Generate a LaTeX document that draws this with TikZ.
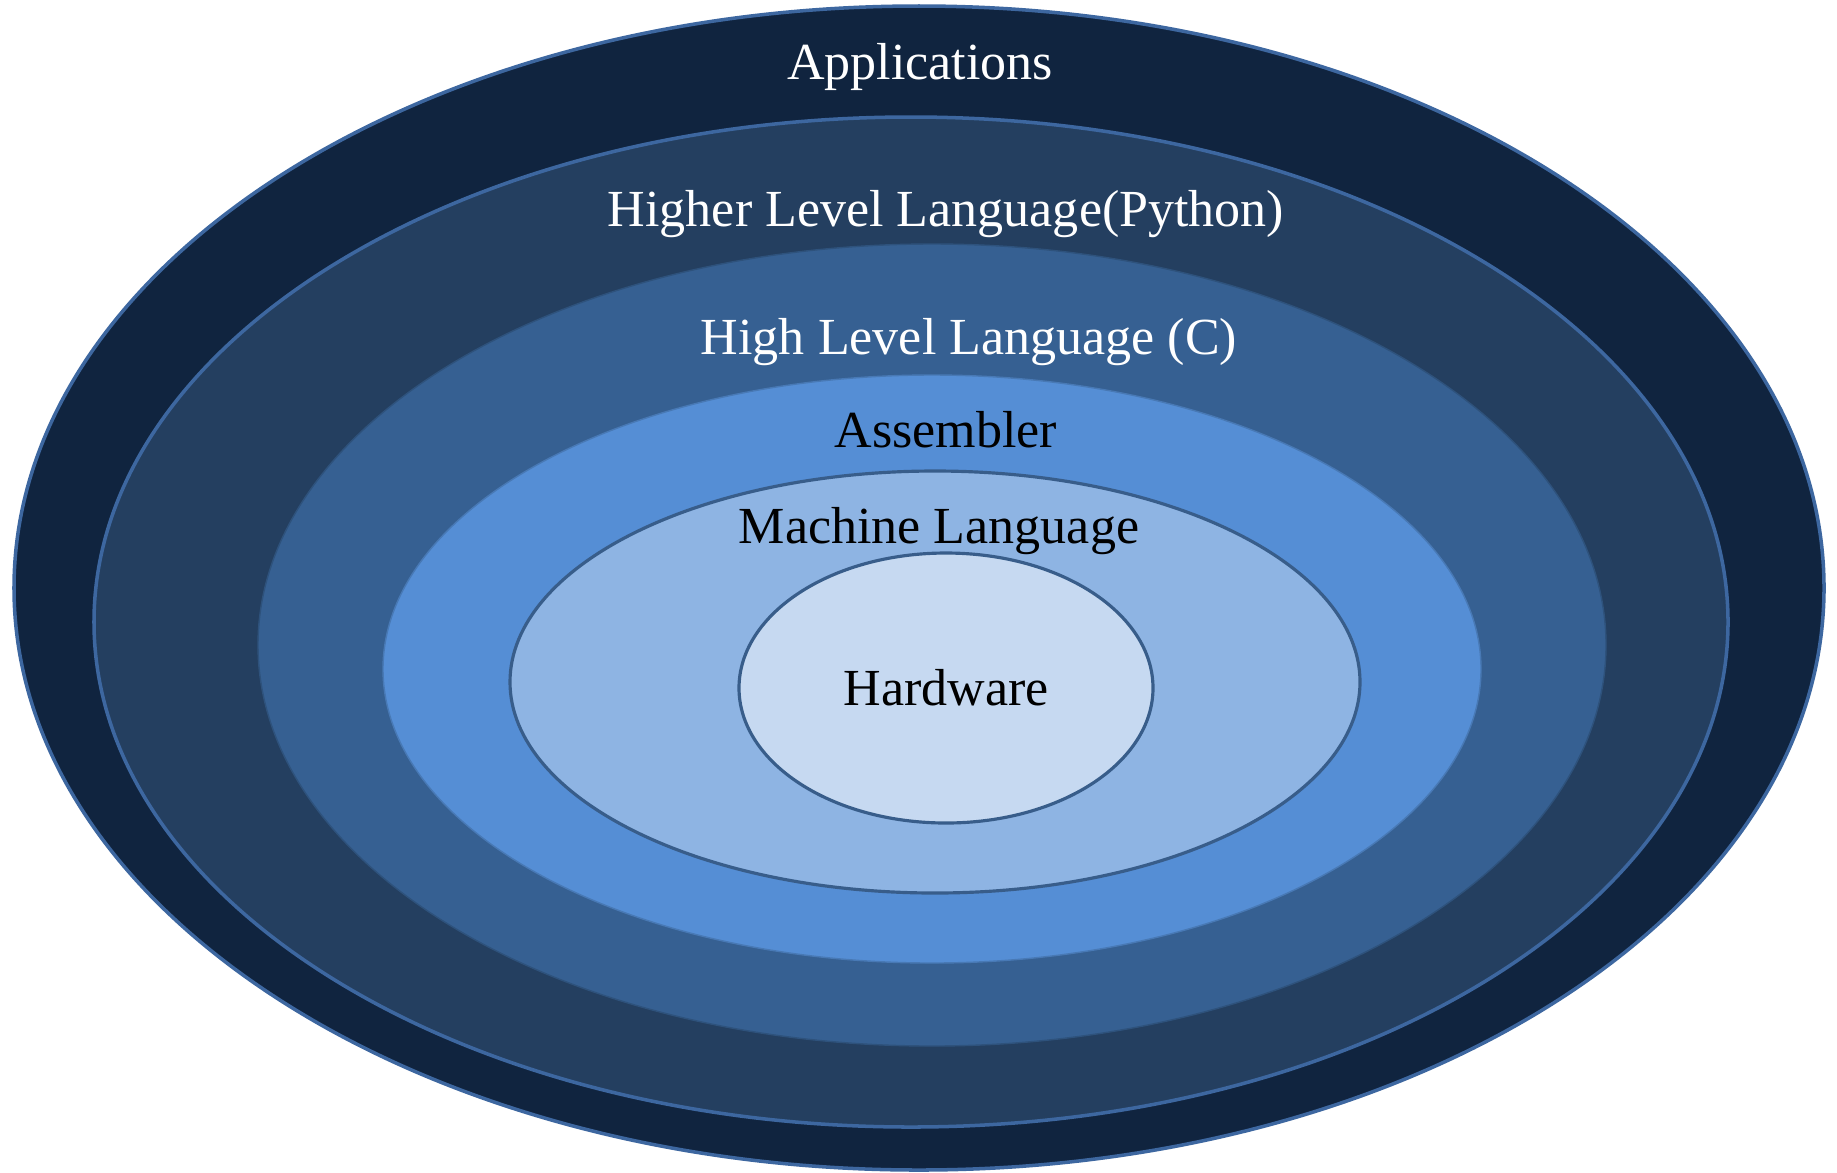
\documentclass[tikz,border=0pt]{standalone}
\usepackage{fontspec}
\setmainfont{Liberation Serif}
\definecolor{layerA}{HTML}{10243F}
\definecolor{layerB}{HTML}{243F60}
\definecolor{layerC}{HTML}{366092}
\definecolor{layerD}{HTML}{558ED5}
\definecolor{layerE}{HTML}{8EB4E3}
\definecolor{layerF}{HTML}{C6D9F1}
\definecolor{rimLight}{HTML}{3D67A0}
\definecolor{rimDark}{HTML}{385D8A}
\tikzset{
  layertext/.style={anchor=base, inner sep=0pt, font=\fontsize{14.8}{17}\selectfont},
  lighttext/.style={layertext, text=white},
  darktext/.style={layertext, text=black},
}
\begin{document}
\begin{tikzpicture}[x=0.01cm, y=-0.01cm]
  \useasboundingbox (0,0) rectangle (1837,1172);
  % nested layers, outermost first
  \filldraw[fill=layerA, draw=rimLight, line width=1pt] (919,588) ellipse [x radius=905, y radius=582];
  \filldraw[fill=layerB, draw=rimLight, line width=1pt] (911,622) ellipse [x radius=817, y radius=505];
  \filldraw[fill=layerC, draw=layerC!85!black, line width=0.4pt] (932,645) ellipse [x radius=674, y radius=401];
  \filldraw[fill=layerD, draw=layerD!85!black, line width=0.4pt] (932,669) ellipse [x radius=549, y radius=294];
  \filldraw[fill=layerE, draw=rimDark, line width=0.9pt] (935,682) ellipse [x radius=425, y radius=211];
  \filldraw[fill=layerF, draw=rimDark, line width=0.9pt] (946,688) ellipse [x radius=207, y radius=135];
  % layer labels
  \node[lighttext] (apps) at (920,79) {Applications};
  \node[lighttext] (python) at (946,226) {Higher Level Language(Python)};
  \node[lighttext] (clang) at (969,354) {High Level Language (C)};
  \node[darktext] (asm) at (946,447) {Assembler};
  \node[darktext] (machine) at (939,543) {Machine Language};
  \node[darktext] (hw) at (946,705) {Hardware};
\end{tikzpicture}
\end{document}
